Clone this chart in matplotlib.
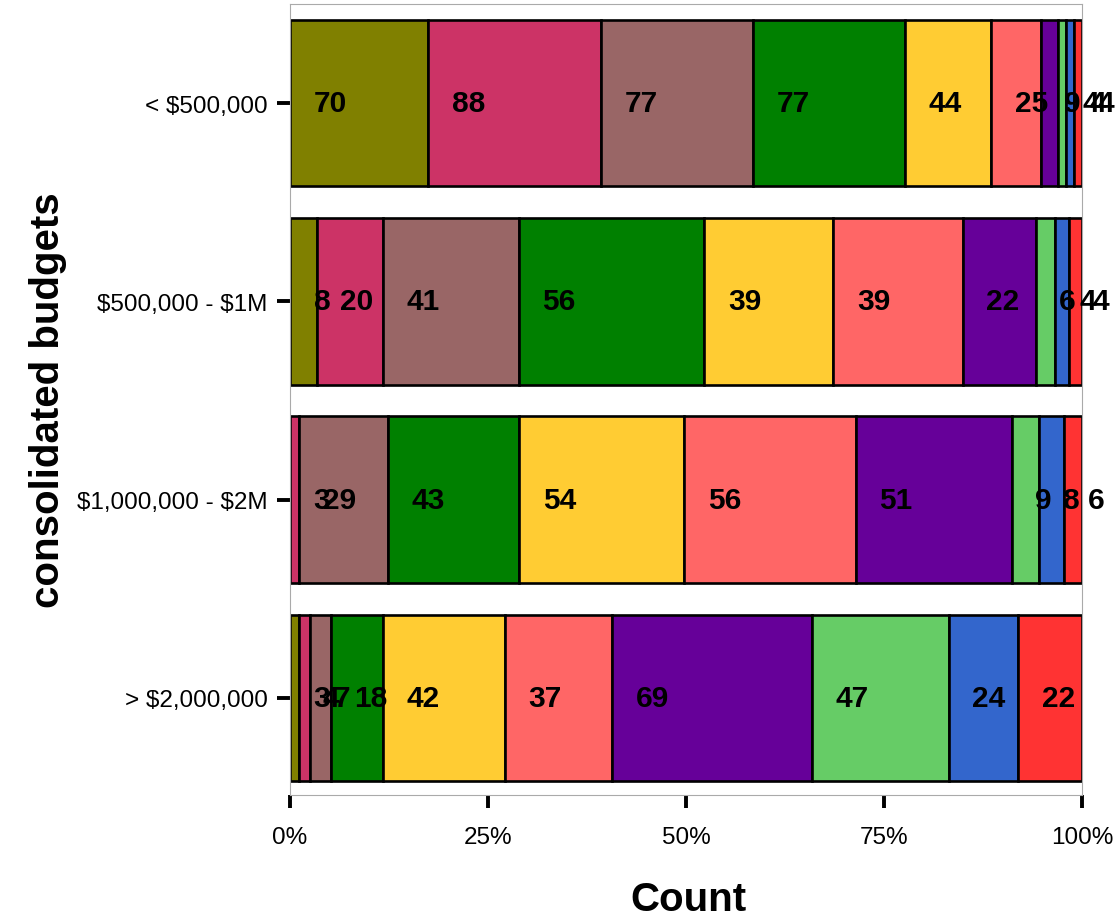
import matplotlib
matplotlib.use("Agg")
import matplotlib.pyplot as plt
import numpy as np

plt.rcParams['font.family'] = ['Liberation Sans', 'DejaVu Sans']

# categories (top to bottom)
budgets = ["< $500,000", "$500,000 - $1M", "$1,000,000 - $2M", "> $2,000,000"]

# counts per segment group, in stacking order (left to right)
grp_olive      = [70, 8, 0, 3]
grp_pink       = [88, 20, 3, 4]
grp_brown      = [77, 41, 29, 7]
grp_green      = [77, 56, 43, 18]
grp_yellow     = [44, 39, 54, 42]
grp_salmon     = [25, 39, 56, 37]
grp_purple     = [9, 22, 51, 69]
grp_lightgreen = [4, 6, 9, 47]
grp_blue       = [4, 4, 8, 24]
grp_red        = [4, 4, 6, 22]

groups = [grp_olive, grp_pink, grp_brown, grp_green, grp_yellow,
          grp_salmon, grp_purple, grp_lightgreen, grp_blue, grp_red]
colors = ["#808000", "#CC3366", "#996666", "#008000", "#FFCC33",
          "#FF6666", "#660099", "#66CC66", "#3366CC", "#FF3333"]

xticks = [0, 0.25, 0.5, 0.75, 1.0]
xticklabels = ["0%", "25%", "50%", "75%", "100%"]

W, H = 1117, 920
fig = plt.figure(figsize=(W / 100, H / 100), dpi=100)
ax = fig.add_axes([290 / W, 1 - 796 / H, (1082 - 290) / W, (796 - 5) / H])

counts = np.array(groups, dtype=float)  # shape (groups, categories)
totals = counts.sum(axis=0)
ypos = np.arange(1, len(budgets) + 1)
left = np.zeros(len(budgets))
for g, col in zip(counts, colors):
    frac = g / totals
    ax.barh(ypos, frac, left=left, height=0.84, color=col,
            edgecolor="black", linewidth=1.9, zorder=2)
    for y, l, n in zip(ypos, left, g):
        if n > 0:
            ax.text(l + 0.030, y, f"{int(n)}", ha="left", va="center",
                    fontsize=21.5, fontweight="bold", color="black", zorder=3)
    left = left + frac

ax.set_xlim(0, 1)
ax.set_ylim(4.49, 0.50)
ax.set_yticks(ypos)
ax.set_yticklabels([b.replace("$", r"\$") for b in budgets])
ax.set_xticks(xticks)
ax.set_xticklabels(xticklabels)
ax.tick_params(axis="both", length=9.5, width=2.8, labelsize=17.5, color="black")
ax.tick_params(axis="y", pad=6.5)
ax.tick_params(axis="x", pad=13)
for s in ax.spines.values():
    s.set_color("#AAAAAA")
    s.set_linewidth(0.8)

fig.text(688 / W, 1 - 900 / H, "Count", ha="center", va="center",
         fontsize=29, fontweight="bold")
fig.text(48 / W, 1 - 400 / H, "consolidated budgets", ha="center", va="center",
         rotation=90, fontsize=29, fontweight="bold")

fig.savefig("out.png", dpi=100)
